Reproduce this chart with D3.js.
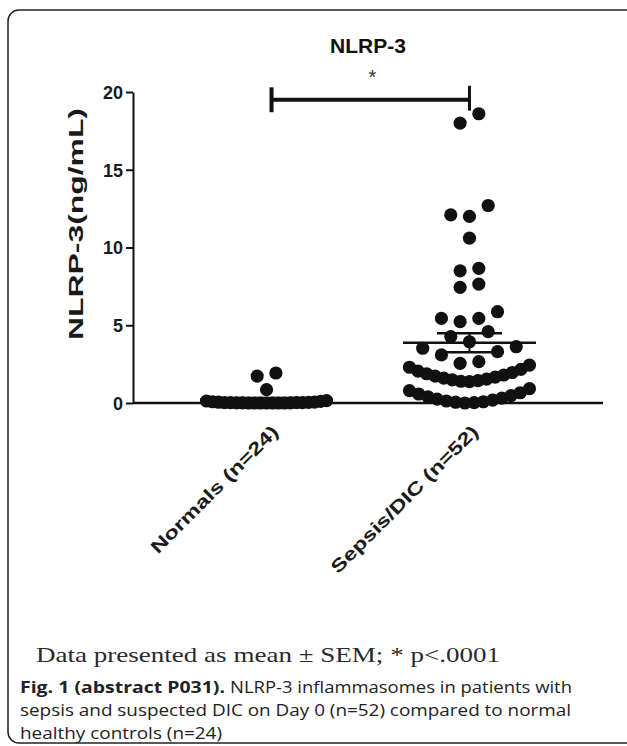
<!DOCTYPE html>
<html><head><meta charset="utf-8">
<script src="https://cdn.jsdelivr.net/npm/d3@7"></script>
<style>body{margin:0;background:#fff;overflow:hidden}svg{display:block}</style>
</head><body>
<svg id="c" width="627" height="746"></svg>
<script>
// ---------- data ----------
const categories = ["Normals (n=24)", "Sepsis/DIC (n=52)"];
const normalsValues = [0.15, 0.13, 0.10, 0.08, 0.06, 0.05, 0.04, 0.03, 0.03, 0.02, 0.02,
  0.01, 0.01, 0.01, 0.0, 0.0, 0.0, 0.0, 0.0, 0.0, 0.0, 0.86, 1.73, 1.93];
const sepsisValues = [18.6, 18.0, 12.7, 12.0, 12.1, 10.6, 8.66, 8.5, 7.65, 7.44,
  5.87, 5.44, 5.23, 5.44, 4.59, 4.27, 3.94, 3.52, 3.62, 3.09, 3.3, 2.55, 2.66,
  1.37, 1.40, 1.44, 1.49, 1.54, 1.60, 1.66, 1.73, 1.80, 1.88, 1.96, 2.05, 2.16, 2.30, 2.44,
  0.00, 0.02, 0.05, 0.08, 0.13, 0.18, 0.25, 0.31, 0.40, 0.47, 0.58, 0.66, 0.80, 0.92];
const yTicks = [0, 5, 10, 15, 20];
const chartTitle = "NLRP-3";
const yAxisLabel = "NLRP-3(ng/mL)";
const significanceMark = "*";
const footnote = "Data presented as mean \u00B1 SEM; * p<.0001";
const captionBold = "Fig. 1 (abstract P031).";
const captionLines = ["NLRP-3 inflammasomes in patients with",
  "sepsis and suspected DIC on Day 0 (n=52) compared to normal",
  "healthy controls (n=24)"];

// ---------- setup ----------
const svg = d3.select("#c");
const sans = "'Liberation Sans', Arial, sans-serif";
const ink = "#111";

svg.append("rect").attr("x", 8).attr("y", 10).attr("width", 700).attr("height", 733)
  .attr("rx", 11).attr("fill", "none").attr("stroke", "#222").attr("stroke-width", 1.5);

const y = d3.scaleLinear().domain([0, 20]).range([403, 92]);
const x = d3.scalePoint().domain(categories).range([133, 603]).padding(0.658);

// Prism-like column scatter layout: rows of similar values, lowest in the centre
function swarm(values, cx) {
  const sorted = values.slice().sort((a, b) => a - b);
  const rows = []; let cur = null;
  sorted.forEach(v => {
    if (!cur || v - cur[0] > 1.12 || v - cur[cur.length - 1] > 0.65) { cur = []; rows.push(cur); }
    cur.push(v);
  });
  const out = [];
  rows.forEach(r => {
    const n = r.length;
    const w = n > 1 ? Math.min(18.7, 120 / (n - 1)) : 18.7;
    const slots = [];
    if (n % 2) { slots.push(0); for (let k = 1; slots.length < n; k++) { slots.push(-k); if (slots.length < n) slots.push(k); } }
    else { for (let k = 0.5; slots.length < n; k++) { slots.push(-k); slots.push(k); } }
    r.forEach((v, j) => out.push({ v, x: cx + slots[j] * w }));
  });
  return out;
}

const groups = [
  { name: categories[0], values: normalsValues },
  { name: categories[1], values: sepsisValues }
];

// axes
const yAxis = svg.append("g").attr("transform", "translate(133,0)")
  .call(d3.axisLeft(y).tickValues(yTicks).tickSize(7).tickPadding(3).tickSizeOuter(0));
yAxis.select(".domain").attr("stroke", ink).attr("stroke-width", 2);
yAxis.selectAll(".tick line").attr("stroke", ink).attr("stroke-width", 2);
yAxis.selectAll(".tick text").attr("font-family", sans).attr("font-weight", "bold")
  .attr("font-size", 18).attr("fill", "#1a1a1a").attr("dy", "0.36em");

svg.append("line").attr("x1", 133).attr("x2", 603).attr("y1", y(0)).attr("y2", y(0))
  .attr("stroke", ink).attr("stroke-width", 2.5);

// points
groups.forEach(g => {
  const pts = swarm(g.values, x(g.name));
  svg.append("g").selectAll("circle").data(pts).join("circle")
    .attr("cx", d => d.x).attr("cy", d => y(d.v)).attr("r", 6.6).attr("fill", ink);
});

// mean ± SEM
groups.forEach(g => {
  const m = d3.mean(g.values);
  const sem = d3.deviation(g.values) / Math.sqrt(g.values.length);
  const cx = x(g.name);
  const gg = svg.append("g").attr("stroke", ink).attr("stroke-width", 2.5);
  gg.append("line").attr("x1", cx - 66.5).attr("x2", cx + 66.5).attr("y1", y(m)).attr("y2", y(m));
  gg.append("line").attr("x1", cx - 32.5).attr("x2", cx + 32.5).attr("y1", y(m + sem)).attr("y2", y(m + sem));
  gg.append("line").attr("x1", cx - 32.5).attr("x2", cx + 32.5).attr("y1", y(m - sem)).attr("y2", y(m - sem));
  gg.append("line").attr("x1", cx).attr("x2", cx).attr("y1", y(m + sem)).attr("y2", y(m - sem)).attr("stroke-width", 2);
});

// significance bracket
const bx1 = x(categories[0]) + 5, bx2 = x(categories[1]);
const br = svg.append("g").attr("stroke", ink).attr("stroke-width", 4);
br.append("line").attr("x1", bx1).attr("x2", bx2).attr("y1", y(19.5)).attr("y2", y(19.5));
br.append("line").attr("x1", bx1).attr("x2", bx1).attr("y1", y(20.3)).attr("y2", y(18.7));
br.append("line").attr("x1", bx2).attr("x2", bx2).attr("y1", y(20.4)).attr("y2", y(18.8)).attr("stroke-width", 3);
svg.append("text").attr("x", (bx1 + bx2) / 2 + 2).attr("y", 84).attr("text-anchor", "middle")
  .attr("font-family", sans).attr("font-size", 20).attr("fill", "#333").text(significanceMark);

// title
svg.append("text").attr("x", 368).attr("y", 53).attr("text-anchor", "middle")
  .attr("font-family", sans).attr("font-weight", "bold").attr("font-size", 21).attr("fill", ink)
  .text(chartTitle);

// y label
svg.append("text").attr("transform", "translate(83,224) rotate(-90)").attr("text-anchor", "middle")
  .attr("font-family", sans).attr("font-weight", "bold").attr("font-size", 20).attr("fill", "#1a1a1a")
  .attr("textLength", 232).attr("lengthAdjust", "spacingAndGlyphs")
  .text(yAxisLabel);

// x category labels
svg.append("g").selectAll("text").data(categories).join("text")
  .attr("transform", (d, i) => `translate(${x(d) + (i ? 10 : 13)},${433}) rotate(-45)`)
  .attr("text-anchor", "end").attr("font-family", sans).attr("font-weight", "bold")
  .attr("font-size", 18).attr("fill", "#1a1a1a")
  .attr("textLength", (d, i) => i ? 200 : 172).attr("lengthAdjust", "spacingAndGlyphs")
  .text(d => d);

// footnote
svg.append("text").attr("x", 36).attr("y", 662).attr("font-family", "'Liberation Serif', 'Times New Roman', serif")
  .attr("font-size", 21).attr("fill", "#2a2a2a").attr("textLength", 464).attr("lengthAdjust", "spacingAndGlyphs")
  .text(footnote);

// caption
const capFont = "'Open Sans', 'Noto Sans', sans-serif";
svg.append("text").attr("x", 20).attr("y", 693).attr("font-family", capFont).attr("font-weight", "bold")
  .attr("font-size", 16).attr("fill", "#222").attr("textLength", 205).attr("lengthAdjust", "spacingAndGlyphs")
  .text(captionBold);
const capLens = [342, 551, 202];
captionLines.forEach((t, i) => {
  svg.append("text").attr("x", i === 0 ? 230 : 20).attr("y", 693 + i * 23).attr("font-family", capFont)
    .attr("font-size", 16).attr("fill", "#222").attr("textLength", capLens[i]).attr("lengthAdjust", "spacingAndGlyphs")
    .text(t);
});
</script>
</body></html>
